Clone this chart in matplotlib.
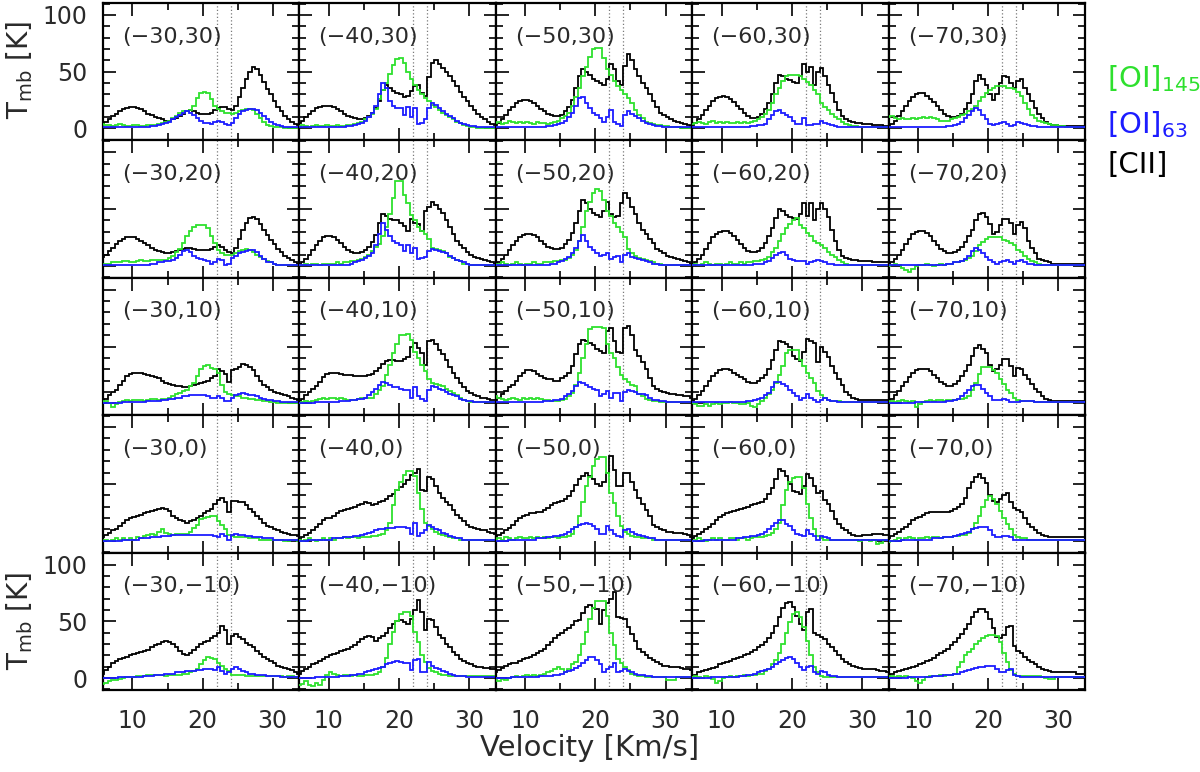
import numpy as np
import matplotlib
matplotlib.use("Agg")
import matplotlib.pyplot as plt
from matplotlib.ticker import MultipleLocator

plt.rcParams['font.family'] = ['DejaVu Sans']
plt.rcParams['mathtext.fontset'] = 'dejavusans'

# velocity channel edges (km/s), 0.5 km/s channels from 5.5 to 34.5
chan_edges = np.arange(5.5, 34.51, 0.5)

ra_offsets = [-30, -40, -50, -60, -70]
dec_offsets = [30, 20, 10, 0, -10]
marker_vel = [22, 24]
x_ticks = [10, 20, 30]
y_ticks = [0, 50, 100]

# ---------------- row dec = +30 ----------------
cii_m30_p30 = [4,6,8,11,13,15,17,18,19,19, 18,17,15,13,12,10,9,8,7,7, 8,9,11,13,15,16,15,14,13,13, 13,14,16,18,19,19,17,16,20,28, 36,44,50,54,52,47,41,35,30,24, 19,15,11,8,6,4,3,3]
o145_m30_p30 = [4,3,3,2,3,4,3,2,2,3, 3,2,2,3,3,3,4,5,6,7, 9,11,14,15,15,16,20,27,31,32, 31,26,20,17,15,14,14,13,14,15, 16,17,17,16,13,9,6,3,2,1, 1,1,0,0,0,0,0,0]
o63_m30_p30 = [1,1,1,1,1,1,1,1,1,1, 1,1,1,1,2,2,3,4,5,6, 8,10,12,14,15,14,12,9,7,5, 5,4,6,7,6,4,3,5,9,13, 15,16,17,17,16,14,11,8,6,4, 3,2,1,1,1,1,1,1]

cii_m40_p30 = [5,7,10,13,15,18,19,20,20,20, 19,17,15,13,11,10,9,8,8,9, 11,14,18,24,34,38,36,33,31,30, 28,29,33,37,38,31,29,45,58,60, 57,53,50,46,42,37,32,28,24,20, 16,13,10,8,6,4,3,3]
o145_m40_p30 = [2,3,2,1,2,3,2,2,3,2, 2,3,2,2,3,3,4,5,6,8, 10,13,17,26,34,40,48,56,61,62, 58,50,44,38,34,30,27,24,21,19, 16,14,12,10,8,6,5,3,2,1, 1,0,0,0,0,0,0,0]
o63_m40_p30 = [1,1,1,1,1,1,1,1,1,1, 1,1,1,1,2,2,3,4,5,7, 10,14,20,30,40,36,24,20,18,18, 12,19,10,18,4,5,8,18,22,21, 18,15,13,11,9,7,5,4,3,2, 2,1,1,1,1,1,1,1]

cii_m50_p30 = [3,5,8,12,16,19,22,24,25,25, 24,22,20,17,15,13,12,11,11,12, 15,19,25,36,46,52,50,47,44,42, 40,38,44,57,52,42,38,55,66,60, 52,46,40,36,30,24,19,14,12,10, 8,7,6,5,4,3,2,1]
o145_m50_p30 = [5,6,4,5,7,6,5,6,5,6, 5,4,6,5,5,4,5,6,7,9, 11,14,20,28,36,46,54,63,70,71, 71,62,52,47,42,37,34,30,27,22, 16,12,9,6,5,4,3,3,2,2, 1,1,1,0,0,0,1,0]
o63_m50_p30 = [1,1,1,1,1,1,1,1,1,1, 1,1,1,1,1,2,2,3,4,5, 7,10,14,20,27,28,22,18,14,12, 9,6,10,16,6,4,2,12,15,13, 11,9,7,5,4,3,2,2,1,1, 1,1,1,1,1,1,1,1]

cii_m60_p30 = [3,5,8,12,16,20,24,27,28,29, 28,26,23,20,17,14,11,9,9,10, 13,17,22,30,40,47,46,44,43,41, 40,46,57,50,54,38,50,53,46,38, 31,23,16,11,8,7,6,5,5,4, 4,4,3,3,3,2,2,2]
o145_m60_p30 = [4,5,6,5,4,6,7,5,6,5, 6,5,5,6,5,6,5,6,7,8, 10,13,16,22,30,36,42,46,47,47, 47,46,44,41,38,34,30,22,19,16, 13,10,8,6,4,3,2,2,1,1, 1,1,1,1,1,1,1,1]
o63_m60_p30 = [1,1,1,1,1,1,1,1,1,1, 1,1,1,1,1,1,1,2,2,3, 3,4,8,12,15,16,14,12,10,7, 4,4,9,3,3,4,4,7,5,4, 3,2,1,1,1,1,1,1,1,1, 1,1,1,1,1,1,1,1]

cii_m70_p30 = [2,4,7,11,15,20,24,28,30,31, 31,29,26,23,20,16,13,11,10,10, 11,13,17,22,30,42,47,44,38,30, 25,30,40,46,45,40,36,42,44,36, 30,24,18,13,9,6,4,3,3,2, 2,2,2,2,2,2,2,2]
o145_m70_p30 = [10,11,9,8,9,8,8,9,8,9, 10,9,10,9,8,7,7,7,8,9, 10,12,13,15,17,20,24,28,31,34, 36,37,37,37,36,36,35,32,29,22, 17,12,9,7,6,5,4,3,3,2, 2,1,1,1,1,1,1,1]
o63_m70_p30 = [1,1,1,1,1,1,1,1,1,1, 1,1,1,1,1,1,1,2,2,3, 4,6,9,12,15,18,16,12,8,4, 3,4,5,6,4,2,3,6,5,4, 3,2,2,1,1,1,1,1,1,1, 1,1,1,1,1,1,1,1]

# ---------------- row dec = +20 ----------------
cii_m30_p20 = [8,10,13,16,19,22,24,25,25,25, 24,22,20,18,16,14,13,12,11,11, 12,13,14,15,16,16,15,14,14,14, 14,15,17,18,17,14,12,11,16,24, 32,38,42,43,41,37,32,27,23,19, 15,12,9,7,5,3,2,1]
o145_m30_p20 = [1,2,2,3,3,3,4,4,3,3, 4,5,4,4,5,5,5,5,5,7, 9,12,15,20,26,31,34,36,36,36, 33,26,20,14,11,10,10,10,11,13, 14,15,14,12,10,8,6,4,3,2, 1,1,1,1,1,1,1,1]
o63_m30_p20 = [1,1,1,1,1,1,1,1,1,1, 1,1,1,1,2,2,3,3,4,4, 5,7,10,13,14,12,9,7,6,5, 4,2,3,6,5,1,2,7,9,11, 12,13,14,14,12,9,6,3,3,2, 1,1,1,1,1,1,1,1]

cii_m40_p20 = [1,3,6,10,14,18,22,25,26,26, 25,23,20,17,14,12,11,11,12,14, 17,21,27,38,46,44,41,40,40,38, 35,31,41,38,37,31,48,52,56,54, 50,47,40,34,28,22,18,16,12,10, 8,7,6,5,4,3,2,1]
o145_m40_p20 = [1,1,2,1,2,2,1,2,2,2, 2,3,2,3,3,4,4,5,6,8, 10,13,17,19,26,34,46,60,75,75, 62,55,45,40,34,31,28,24,16,15, 14,13,11,8,7,5,4,2,2,1, 1,1,1,1,1,1,1,1]
o63_m40_p20 = [1,1,1,1,1,1,1,1,1,1, 1,1,1,1,1,2,3,4,5,7, 9,11,18,28,38,32,26,22,20,18, 13,18,11,16,6,7,8,13,15,14, 13,12,11,9,7,5,4,3,2,1, 1,1,1,1,1,1,1,1]

cii_m50_p20 = [1,3,6,10,14,18,22,25,27,28, 28,27,25,22,19,17,16,15,15,16, 19,23,29,38,48,58,55,50,47,45, 43,48,56,46,43,44,55,64,60,52, 46,38,32,28,24,20,15,13,11,9, 8,7,6,5,4,3,2,1]
o145_m50_p20 = [1,2,3,2,1,2,3,2,1,2, 2,3,2,2,3,3,3,4,4,5, 5,7,10,14,22,34,48,56,64,68, 66,58,48,44,38,34,30,25,15,11, 9,7,6,5,4,3,2,2,1,1, 1,1,1,1,1,1,1,1]
o63_m50_p20 = [1,1,1,1,1,1,1,1,1,1, 1,1,1,1,1,1,2,2,3,4, 6,8,11,16,22,27,22,17,14,11, 9,10,11,6,8,9,3,10,11,8, 7,6,5,4,3,2,2,1,1,1, 1,1,1,1,1,1,1,1]

cii_m60_p20 = [1,3,6,10,15,20,25,28,30,31, 31,29,26,23,19,16,13,12,12,13, 16,20,26,33,42,50,48,45,43,42, 41,46,55,44,55,40,50,55,50,43, 32,22,14,9,7,6,5,5,4,4, 4,4,3,3,3,3,3,3]
o145_m60_p20 = [1,2,1,2,3,2,1,2,2,1, 2,3,2,2,3,2,3,3,4,4, 5,6,8,12,16,22,28,33,37,40, 42,36,33,29,26,22,20,18,16,12, 10,8,5,3,2,1,1,1,1,1, 1,1,1,1,1,1,1,1]
o63_m60_p20 = [1,1,1,1,1,1,1,1,1,1, 1,1,1,1,1,1,1,1,2,2, 2,3,4,7,10,11,12,10,6,5, 4,4,4,2,3,4,5,4,3,2, 2,1,1,1,1,1,1,1,1,1, 1,1,1,1,1,1,1,1]

cii_m70_p20 = [1,3,6,10,14,19,24,28,30,31, 31,29,26,22,18,15,13,11,11,12, 14,17,21,26,32,40,46,47,43,37, 28,30,36,41,41,38,28,36,39,33, 22,16,11,6,5,4,3,2,2,2, 2,2,2,2,2,2,2,2]
o145_m70_p20 = [0,1,2,1,-2,-4,-5,-3,0,1, 1,2,1,0,1,2,1,2,2,3, 3,4,5,7,9,13,18,21,24,25, 25,25,25,23,22,20,18,14,12,9, 6,4,3,2,1,1,1,1,1,1, 1,1,1,1,1,1,1,1]
o63_m70_p20 = [1,1,1,1,1,1,1,1,1,1, 1,1,1,1,1,1,1,2,2,3, 3,4,6,9,13,16,14,11,8,5, 3,2,3,4,5,3,2,4,5,3, 2,2,1,1,1,1,1,1,1,1, 1,1,1,1,1,1,1,1]

# ---------------- row dec = +10 ----------------
cii_m30_p10 = [2,4,7,10,12,16,20,24,26,27, 27,27,26,25,24,23,22,20,18,17, 16,15,15,14,14,15,16,17,18,19, 20,22,24,30,28,26,19,29,30,32, 35,34,32,29,24,20,16,14,12,10, 9,8,7,6,5,4,3,3]
o145_m30_p10 = [1,2,0,-3,-1,1,2,3,2,3, 3,3,2,3,4,4,3,4,4,5, 6,8,9,11,12,15,18,24,30,33, 34,31,30,27,16,10,8,7,6,6, 5,5,4,4,3,3,2,2,1,1, 0,0,0,0,0,0,0,0]
o63_m30_p10 = [0,0,0,0,0,0,1,1,1,1, 1,1,1,2,2,2,2,3,3,4, 4,5,5,6,6,7,7,7,7,7, 6,5,5,6,5,2,2,5,7,8, 9,8,7,7,6,5,4,3,3,2, 2,1,1,1,1,1,1,1]

cii_m40_p10 = [2,4,7,10,13,15,19,23,26,27, 27,27,26,25,25,25,24,24,24,24, 25,26,28,31,35,37,38,38,37,37, 39,41,50,53,49,44,34,55,56,52, 47,43,38,32,27,22,18,14,11,9, 7,6,5,5,4,3,3,3]
o145_m40_p10 = [0,1,2,1,2,3,4,5,4,5, 5,4,5,4,3,3,3,4,5,5, 5,5,8,12,15,25,34,44,52,60, 60,61,56,45,40,34,28,21,18,17, 16,15,13,11,9,7,5,3,2,1, 1,1,1,1,1,1,1,1]
o63_m40_p10 = [0,0,0,0,0,1,1,1,1,1, 1,1,2,2,2,3,3,4,4,5, 7,10,13,16,19,18,16,14,14,13, 12,12,5,14,6,4,2,12,15,14, 13,12,10,8,7,6,4,3,2,2, 1,1,1,1,1,1,1,1]

cii_m50_p10 = [3,5,8,11,14,16,20,24,27,29, 29,28,26,24,22,21,21,20,20,22, 24,27,33,43,52,56,55,53,51,48, 46,44,64,66,55,45,44,66,68,60, 47,42,36,30,22,15,13,11,10,9, 8,8,7,7,6,6,5,4]
o145_m50_p10 = [6,5,4,3,4,5,4,3,5,4, 5,4,5,4,3,3,2,2,2,3, 4,6,9,16,27,40,52,65,67,67, 67,66,52,44,40,32,25,21,19,16, 15,8,6,4,3,2,2,1,1,1, 1,1,1,1,1,1,1,1]
o63_m50_p10 = [1,1,1,1,1,1,1,1,1,1, 1,1,1,1,2,2,2,3,3,4, 6,8,11,15,19,18,16,14,13,12, 6,8,11,5,9,9,2,10,12,11, 10,8,8,7,5,3,3,2,2,1, 1,1,1,1,1,1,1,1]

cii_m60_p10 = [2,4,7,11,15,20,24,27,29,30, 30,29,27,25,23,21,19,18,18,20, 22,25,30,38,47,55,54,52,50,42, 39,37,45,57,55,53,36,50,45,41, 33,27,21,16,10,7,5,4,3,3, 3,3,3,3,3,3,3,3]
o145_m60_p10 = [0,-1,-2,-2,-1,-2,-1,0,-1,0, 0,1,0,0,-1,-1,0,-2,-3,-1, 2,5,8,12,18,25,33,44,47,47, 47,38,33,27,22,18,11,7,5,3, 2,2,2,1,1,1,1,1,1,1, 1,1,1,1,1,1,1,1]
o63_m60_p10 = [1,1,1,1,1,1,1,1,1,1, 1,1,1,1,1,1,2,2,3,4, 5,7,9,14,19,19,17,15,12,9, 6,3,5,8,5,3,1,3,5,3, 2,2,1,1,1,1,1,1,1,1, 1,1,1,1,1,1,1,1]

cii_m70_p10 = [2,4,7,11,15,19,23,27,29,30, 30,30,28,25,22,19,17,15,15,17, 20,24,28,34,42,49,51,48,44,34, 28,30,34,39,39,33,24,31,30,25, 21,17,13,10,6,4,3,2,2,2, 2,2,2,2,2,2,2,2]
o145_m70_p10 = [1,2,1,2,3,2,1,2,-3,-1, 1,2,3,2,3,3,2,3,3,3, 4,4,5,6,12,18,26,32,32,32, 29,27,21,17,12,9,5,3,2,2, 2,2,1,1,1,1,1,1,1,1, 1,1,1,1,1,1,1,1]
o63_m70_p10 = [0,0,0,0,0,0,0,0,1,1, 1,1,1,1,1,1,1,2,2,3, 4,6,9,12,15,16,16,13,9,6, 3,3,3,4,3,1,1,1,2,2, 2,2,1,1,1,1,1,1,1,1, 1,1,1,1,1,1,1,1]

# ---------------- row dec = 0 ----------------
cii_m30_p0 = [3,5,7,9,10,13,16,18,20,21, 22,23,24,25,26,27,28,29,28,26, 22,20,18,17,16,17,18,20,22,24, 26,28,32,36,38,34,25,35,35,34, 34,31,28,25,22,19,16,13,12,10, 9,8,7,6,5,5,4,4]
o145_m30_p0 = [0,1,0,1,2,1,2,1,2,1, 3,2,4,5,6,5,8,10,7,6, 5,6,6,6,6,8,11,14,19,20, 21,22,22,17,14,10,5,4,3,3, 3,3,2,2,2,1,1,1,1,1, 1,1,0,0,1,1,0,0]
o63_m30_p0 = [0,0,0,0,0,0,1,1,1,1, 1,2,2,2,3,3,3,4,4,4, 5,5,5,5,5,5,5,5,5,5, 5,5,4,3,6,4,1,5,6,5, 5,4,4,3,3,3,2,2,2,1, 1,1,1,1,1,1,1,1]

cii_m40_p0 = [1,3,5,7,9,12,15,18,20,20, 22,24,26,27,28,29,30,31,32,34, 33,31,32,34,35,37,39,41,45,47, 50,53,58,60,63,45,44,56,54,48, 42,38,34,31,27,23,20,17,14,12, 11,10,9,9,8,7,6,5]
o145_m40_p0 = [1,0,1,2,1,0,1,2,1,2, 1,2,2,3,2,3,3,2,3,3, 3,4,4,5,6,9,16,31,45,52, 58,61,61,57,42,28,16,13,10,8, 6,5,4,3,2,2,1,1,1,1, 1,1,1,1,1,1,1,1]
o63_m40_p0 = [0,0,0,1,1,1,1,1,1,1, 2,2,2,3,3,3,4,4,5,6, 7,8,9,10,10,11,11,11,12,12, 12,11,6,16,4,7,9,14,12,10, 9,7,6,4,3,2,2,1,1,1, 1,1,1,1,1,1,1,1]

cii_m50_p0 = [3,5,7,9,11,14,17,20,22,23, 24,24,25,25,27,29,31,33,34,35, 37,39,44,49,54,57,60,57,54,50, 48,52,60,75,62,48,48,60,60,52, 45,38,32,27,22,14,12,10,9,8, 8,7,7,7,6,5,3,3]
o145_m50_p0 = [1,2,1,3,2,1,2,3,2,2, 3,2,3,2,3,2,3,3,2,3, 3,4,6,12,22,34,48,56,66,72, 74,74,60,42,33,22,13,8,6,4, 3,3,2,2,2,1,1,1,1,1, 1,1,1,1,1,1,1,1]
o63_m50_p0 = [0,0,0,0,1,1,1,1,1,1, 1,1,2,2,2,3,3,4,4,5, 6,8,10,12,14,15,16,15,13,10, 6,6,13,9,6,4,3,9,10,8, 6,5,4,3,2,2,1,1,1,1, 1,1,1,1,1,1,1,1]

cii_m60_p0 = [2,4,6,8,10,12,15,18,21,23, 24,25,26,27,28,29,30,31,32,33, 34,37,41,46,54,63,61,57,50,44, 43,41,48,59,55,48,42,44,36,32, 26,19,15,11,9,7,5,4,4,5, 5,5,6,6,6,5,5,5]
o145_m60_p0 = [0,1,2,1,0,1,2,1,2,1, 1,2,2,1,2,2,1,2,3,3, 3,4,5,7,10,16,31,45,52,55, 56,56,46,32,20,10,4,2,1,1, 1,1,1,1,1,1,1,1,0,1, 1,0,1,-3,-2,1,1,1]
o63_m60_p0 = [0,0,0,0,1,1,1,1,1,1, 1,1,1,2,2,3,3,4,4,5, 6,8,10,13,16,18,18,15,13,9, 6,5,4,9,6,4,1,4,3,2, 1,1,1,1,1,1,1,1,1,1, 1,1,1,1,1,1,1,1]

cii_m70_p0 = [2,4,6,8,10,12,15,18,20,21, 23,24,25,25,25,25,25,25,26,28, 30,32,38,46,52,56,59,55,51,40, 35,34,37,40,42,34,29,27,25,20, 15,12,9,7,5,4,3,3,3,3, 3,3,3,3,3,3,3,3]
o145_m70_p0 = [-1,0,1,2,1,2,3,2,1,2, 2,3,2,3,3,2,3,3,3,4, 4,5,5,7,10,16,22,30,36,39, 37,32,26,20,15,10,5,3,2,2, 1,1,1,1,1,1,1,1,1,1, 1,1,1,1,1,1,1,1]
o63_m70_p0 = [0,0,0,0,1,1,1,1,1,1, 1,1,1,2,2,2,3,3,3,4, 5,6,7,8,10,11,12,12,12,9, 5,3,3,4,4,3,1,1,1,1, 1,1,1,1,1,1,1,1,1,1, 1,1,1,1,1,1,1,1]

# ---------------- row dec = -10 ----------------
cii_m30_m10 = [4,7,10,13,15,17,18,19,20,21, 22,23,24,25,27,29,30,32,33,32, 30,27,24,21,20,22,25,27,30,32, 33,35,37,40,46,42,30,37,39,36, 34,31,29,27,24,21,19,17,15,13, 11,10,9,8,7,5,4,4]
o145_m30_m10 = [-5,-4,-3,-2,-2,-1,0,1,1,1, 2,2,2,3,3,3,3,3,2,3, 3,3,3,4,4,5,6,8,12,16, 19,18,17,13,11,8,6,3,3,3, 3,2,2,2,2,2,2,2,2,2, 2,2,1,2,2,1,1,2]
o63_m30_m10 = [0,0,0,0,0,1,1,1,1,1, 1,1,2,2,2,3,3,3,4,4, 4,5,5,5,6,6,6,7,7,8, 8,8,7,10,6,4,5,8,10,8, 6,5,4,4,3,3,3,2,2,2, 2,1,1,1,1,1,1,1]

cii_m40_m10 = [4,6,8,10,12,13,15,17,19,20, 21,22,24,25,26,27,29,32,34,36, 37,36,33,35,37,40,44,48,50,51, 49,48,52,60,69,58,42,52,51,45, 38,35,30,27,23,20,17,15,13,12, 11,10,10,9,9,8,8,7]
o145_m40_m10 = [-6,-5,-3,-6,-7,-4,-6,-2,3,5, 4,3,2,3,3,2,3,2,2,3, 3,3,4,5,10,18,30,41,50,56, 58,58,55,41,32,20,14,9,6,5, 4,3,3,2,2,2,2,2,2,2, 2,2,2,2,2,2,2,2]
o63_m40_m10 = [0,0,0,0,0,1,1,1,1,1, 1,1,2,2,2,3,3,4,4,5, 6,7,8,9,10,12,13,14,15,14, 13,13,7,16,17,5,5,14,11,9, 8,6,5,4,3,2,2,2,1,1, 1,1,1,1,1,1,1,1]

cii_m50_m10 = [5,7,9,11,12,13,13,15,17,18, 19,20,22,24,26,29,32,35,38,40, 42,44,47,50,51,57,63,64,62,61, 48,60,66,70,76,54,53,52,45,39, 33,26,23,20,18,16,14,12,11,11, 10,10,10,9,8,8,7,6]
o145_m50_m10 = [-2,-3,-1,-2,0,1,2,1,2,3, 2,3,2,3,4,5,6,8,10,8, 5,8,12,14,20,30,41,52,62,68, 68,68,55,40,29,17,13,10,7,4, 3,2,2,1,1,1,1,1,1,-2, -2,-2,1,1,1,1,1,1]
o63_m50_m10 = [0,0,0,0,0,1,1,1,1,1, 1,1,1,2,2,2,2,3,3,4, 5,6,7,9,11,13,16,19,19,16, 12,5,8,10,13,5,6,8,6,5, 4,3,3,2,2,1,1,1,1,1, 1,1,1,1,1,1,1,1]

cii_m60_m10 = [2,3,5,6,7,8,9,10,12,13, 14,15,17,18,19,20,21,23,25,27, 29,32,35,40,46,54,62,66,67,63, 55,48,42,58,61,40,38,36,34,30, 27,24,20,17,14,12,11,10,9,8, 8,8,8,7,6,6,5,5]
o145_m60_m10 = [1,2,1,0,2,1,-1,-4,-3,0, 1,2,1,2,2,3,2,3,3,4, 4,6,8,12,16,22,30,40,49,56, 58,54,45,33,20,10,5,2,1,1, 1,1,1,1,1,1,1,1,1,1, 1,1,1,1,1,1,1,1]
o63_m60_m10 = [0,0,0,0,0,0,1,1,1,1, 1,1,1,1,2,2,3,3,4,5, 6,7,8,10,12,14,16,18,19,17, 13,10,7,10,11,5,4,6,5,3, 2,2,1,1,1,1,1,1,1,1, 1,1,1,1,1,1,1,1]

cii_m70_m10 = [3,4,5,6,7,8,9,10,11,12, 13,15,16,18,20,22,24,26,29,32, 35,39,43,48,54,58,61,61,58,52, 44,36,35,38,45,46,28,24,22,19, 16,14,12,10,8,7,6,5,5,5, 5,5,5,5,4,4,4,4]
o145_m70_m10 = [1,2,1,2,1,2,1,0,-3,-4, -2,1,2,2,2,3,2,3,3,4, 10,14,20,23,26,30,33,35,37,38, 38,37,32,22,14,7,4,2,2,2, 2,2,2,2,1,0,-1,-1,1,1, 1,1,1,1,1,1,1,1]
o63_m70_m10 = [0,0,0,0,0,0,1,1,1,1, 1,1,1,2,2,2,3,3,3,4, 4,5,6,7,8,9,10,10,11,11, 11,8,5,5,7,8,3,2,1,1, 1,1,1,1,1,1,1,1,1,1, 1,1,1,1,1,1,1,1]

# ---------------- styling ----------------
col_cii = '#000000'
col_o145 = '#2ee02e'
col_o63 = '#1c1cff'
txt_col = '#2a2a2a'


def tag(v):
    return ('m' if v < 0 else 'p') + str(abs(v))


def pos_label(ra, dec):
    return '(' + f'{ra},{dec}'.replace('-', '\u2212') + ')'


fig = plt.figure(figsize=(12, 7.72), dpi=100)
L0 = 103 / 1200
PW = 196.4 / 1200
T0 = 3 / 772
PH = 137.4 / 772

data = globals()
for r, dec in enumerate(dec_offsets):
    for c, ra in enumerate(ra_offsets):
        ax = fig.add_axes([L0 + c * PW, 1 - T0 - (r + 1) * PH, PW, PH])
        k = tag(ra) + '_' + tag(dec)
        for v in marker_vel:
            ax.axvline(v, color='#7a7a7a', ls=(0, (1, 1.8)), lw=0.9, zorder=1)
        ax.stairs(data['cii_' + k], chan_edges, baseline=None, color=col_cii, lw=1.3, zorder=3)
        ax.stairs(data['o145_' + k], chan_edges, baseline=None, color=col_o145, lw=1.3, zorder=4)
        ax.stairs(data['o63_' + k], chan_edges, baseline=None, color=col_o63, lw=1.3, zorder=5)
        ax.set_xlim(5.8, 33.8)
        ax.set_ylim(-10.5, 110.5)
        ax.set_xticks(x_ticks)
        ax.xaxis.set_minor_locator(MultipleLocator(5))
        ax.set_yticks(y_ticks)
        ax.yaxis.set_minor_locator(MultipleLocator(10))
        ax.tick_params(which='both', direction='in', top=True, right=True,
                       width=1.2, colors='black', labelcolor=txt_col)
        ax.tick_params(which='major', length=9)
        ax.tick_params(which='minor', length=5)
        ax.tick_params(axis='y', labelsize=17, pad=11)
        ax.tick_params(axis='x', labelsize=17, pad=14)
        for s in ax.spines.values():
            s.set_linewidth(1.6)
        if r != len(dec_offsets) - 1:
            ax.tick_params(axis='x', labelbottom=False)
        if not (c == 0 and r in (0, len(dec_offsets) - 1)):
            ax.tick_params(axis='y', labelleft=False)
        ax.text(0.097, 0.755, pos_label(ra, dec), transform=ax.transAxes,
                fontsize=16, color=txt_col, ha='left', va='center', zorder=6)

# axis labels
fig.text(0.0167, 1 - 70 / 772, r'T$_{\rm mb}$ [K]', rotation=90, fontsize=20,
         color=txt_col, ha='center', va='center')
fig.text(0.0167, 1 - 621 / 772, r'T$_{\rm mb}$ [K]', rotation=90, fontsize=20,
         color=txt_col, ha='center', va='center')
fig.text(590 / 1200, 1 - 748 / 772, 'Velocity [Km/s]', fontsize=21,
         color=txt_col, ha='center', va='center')

# legend
fig.text(1107 / 1200, 1 - 87.3 / 772, r'[OI]$_{145}$', color=col_o145, fontsize=21, va='baseline')
fig.text(1107 / 1200, 1 - 133.3 / 772, r'[OI]$_{63}$', color=col_o63, fontsize=21, va='baseline')
fig.text(1107 / 1200, 1 - 173.3 / 772, '[CII]', color=col_cii, fontsize=21, va='baseline')

fig.savefig('out.png', dpi=100)
